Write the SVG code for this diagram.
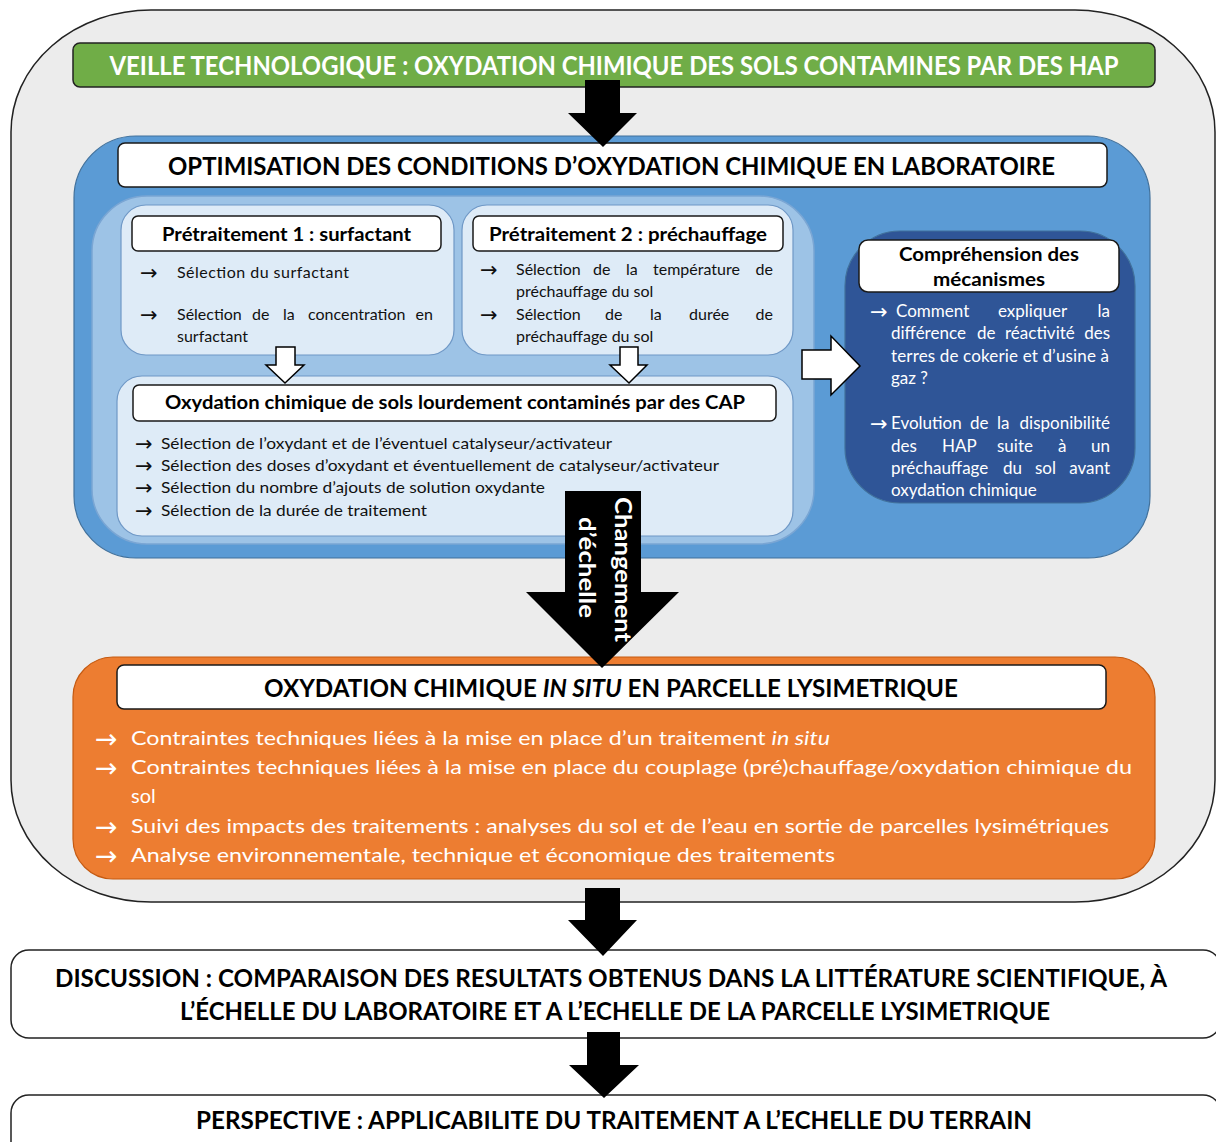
<svg xmlns="http://www.w3.org/2000/svg" width="1216" height="1142" viewBox="0 0 1216 1142">
<style>
text{font-family:Lato,"Open Sans","DejaVu Sans",sans-serif;}
text.ar{font-family:"DejaVu Sans",sans-serif;font-size:21px;}
text.ar.big{font-size:27px;}
.hb{font-weight:700;fill:#000;}
.hw{font-weight:700;fill:#fff;}
.t16{font-size:16px;fill:#111;}
.w17{font-size:17px;fill:#fff;}
.w20{font-size:20px;fill:#fff;}
.hdr{fill:#fff;stroke:#1a1a1a;stroke-width:1.5;}
.pbox{fill:#deebf7;stroke:#6f98c6;stroke-width:1.2;}
.blk{fill:#000;}
.wht{fill:#fff;stroke:#000;stroke-width:1.5;}
</style>
<rect width="1216" height="1142" fill="#fff"/>

<g id="outer">
<rect x="11" y="10" width="1204" height="892" rx="140" ry="122" fill="#ececec" stroke="#222" stroke-width="1.5"/>
</g>

<g id="veille">
<rect x="73" y="43" width="1082" height="44" rx="7" fill="#70ad47" stroke="#222" stroke-width="1.5"/>
<text x="614" y="75" text-anchor="middle" class="hw" font-size="26" textLength="1009" lengthAdjust="spacingAndGlyphs">VEILLE TECHNOLOGIQUE : OXYDATION CHIMIQUE DES SOLS CONTAMINES PAR DES HAP</text>
</g>

<g id="laboratoire">
<rect x="74" y="136" width="1076" height="422" rx="62" fill="#5b9bd5" stroke="#41719c" stroke-width="1.2"/>
<rect x="118" y="143" width="989" height="44" rx="7" class="hdr"/>
<text x="611.5" y="175" text-anchor="middle" class="hb" font-size="25" textLength="887" lengthAdjust="spacingAndGlyphs">OPTIMISATION DES CONDITIONS D’OXYDATION CHIMIQUE EN LABORATOIRE</text>
<rect x="92" y="196" width="722" height="348" rx="55" fill="#9dc3e6" stroke="#7aa6d4" stroke-width="1.5"/>
</g>

<g id="pretraitement1">
<rect x="121" y="205" width="333" height="150" rx="25" class="pbox"/>
<rect x="132" y="216" width="309" height="35" rx="6" class="hdr"/>
<text x="286.5" y="241" text-anchor="middle" class="hb" font-size="19" textLength="249" lengthAdjust="spacingAndGlyphs">Prétraitement 1 : surfactant</text>
<text x="140" y="280" class="ar" fill="#111">→</text>
<text x="177" y="278" class="t16" textLength="172" lengthAdjust="spacing">Sélection du surfactant</text>
<text x="140" y="322" class="ar" fill="#111">→</text>
<text y="320" class="t16"><tspan x="177">Sélection</tspan><tspan x="252">de</tspan><tspan x="283">la</tspan><tspan x="308">concentration</tspan></text>
<text x="433" y="320" text-anchor="end" class="t16">en</text>
<text x="177" y="342" class="t16">surfactant</text>
</g>

<g id="pretraitement2">
<rect x="462" y="205" width="331" height="150" rx="25" class="pbox"/>
<rect x="473" y="216" width="310" height="35" rx="6" class="hdr"/>
<text x="628" y="241" text-anchor="middle" class="hb" font-size="19" textLength="278" lengthAdjust="spacingAndGlyphs">Prétraitement 2 : préchauffage</text>
<text x="480" y="277" class="ar" fill="#111">→</text>
<text y="275" class="t16"><tspan x="516">Sélection</tspan><tspan x="593">de</tspan><tspan x="626">la</tspan><tspan x="653">température</tspan></text>
<text x="773" y="275" text-anchor="end" class="t16">de</text>
<text x="516" y="297" class="t16">préchauffage du sol</text>
<text x="480" y="322" class="ar" fill="#111">→</text>
<text y="320" class="t16"><tspan x="516">Sélection</tspan><tspan x="605">de</tspan><tspan x="650">la</tspan><tspan x="689">durée</tspan></text>
<text x="773" y="320" text-anchor="end" class="t16">de</text>
<text x="516" y="342" class="t16">préchauffage du sol</text>
</g>

<g id="oxydation-labo">
<rect x="117" y="376" width="676" height="160" rx="25" class="pbox"/>
<rect x="133" y="385" width="643" height="36" rx="6" class="hdr"/>
<text x="455" y="409" text-anchor="middle" class="hb" font-size="19" textLength="580" lengthAdjust="spacingAndGlyphs">Oxydation chimique de sols lourdement contaminés par des CAP</text>
<text x="135" y="451" class="ar" fill="#111">→</text>
<text x="161" y="449" class="t16" textLength="451" lengthAdjust="spacingAndGlyphs">Sélection de l’oxydant et de l’éventuel catalyseur/activateur</text>
<text x="135" y="473" class="ar" fill="#111">→</text>
<text x="161" y="471" class="t16" textLength="558" lengthAdjust="spacingAndGlyphs">Sélection des doses d’oxydant et éventuellement de catalyseur/activateur</text>
<text x="135" y="495" class="ar" fill="#111">→</text>
<text x="161" y="493" class="t16" textLength="384" lengthAdjust="spacingAndGlyphs">Sélection du nombre d’ajouts de solution oxydante</text>
<text x="135" y="518" class="ar" fill="#111">→</text>
<text x="161" y="516" class="t16" textLength="266" lengthAdjust="spacingAndGlyphs">Sélection de la durée de traitement</text>
</g>

<g id="comprehension">
<rect x="845" y="231" width="290" height="272" rx="55" fill="#2f5597" stroke="#41719c" stroke-width="1.2"/>
<rect x="859" y="240" width="260" height="52" rx="9" class="hdr"/>
<text x="989" y="261" text-anchor="middle" class="hb" font-size="19" textLength="180" lengthAdjust="spacingAndGlyphs">Compréhension des</text>
<text x="989" y="286" text-anchor="middle" class="hb" font-size="19" textLength="112" lengthAdjust="spacingAndGlyphs">mécanismes</text>
<text x="870" y="319" class="ar" fill="#fff">→</text>
<text y="317" class="w17"><tspan x="896">Comment</tspan><tspan x="998">expliquer</tspan></text>
<text x="1110" y="317" text-anchor="end" class="w17">la</text>
<text y="339" class="w17"><tspan x="891">différence</tspan><tspan x="977">de</tspan><tspan x="1005">réactivité</tspan></text>
<text x="1110" y="339" text-anchor="end" class="w17">des</text>
<text x="891" y="362" class="w17" textLength="218" lengthAdjust="spacing">terres de cokerie et d’usine à</text>
<text x="891" y="384" class="w17">gaz ?</text>
<text x="870" y="431" class="ar" fill="#fff">→</text>
<text y="429" class="w17"><tspan x="891">Evolution</tspan><tspan x="970">de</tspan><tspan x="997">la</tspan></text>
<text x="1110" y="429" text-anchor="end" class="w17">disponibilité</text>
<text y="452" class="w17"><tspan x="891">des</tspan><tspan x="942">HAP</tspan><tspan x="997">suite</tspan><tspan x="1058">à</tspan></text>
<text x="1110" y="452" text-anchor="end" class="w17">un</text>
<text y="474" class="w17"><tspan x="891">préchauffage</tspan><tspan x="1003">du</tspan><tspan x="1035">sol</tspan></text>
<text x="1110" y="474" text-anchor="end" class="w17">avant</text>
<text x="891" y="496" class="w17">oxydation chimique</text>
</g>

<g id="in-situ">
<rect x="73" y="657" width="1082" height="222" rx="40" fill="#ed7d31" stroke="#c55a11" stroke-width="1.2"/>
<rect x="117" y="665" width="989" height="44" rx="7" class="hdr"/>
<text x="611" y="697" text-anchor="middle" class="hb" font-size="24" textLength="694" lengthAdjust="spacingAndGlyphs">OXYDATION CHIMIQUE <tspan font-style="italic">IN SITU</tspan> EN PARCELLE LYSIMETRIQUE</text>
<text x="95" y="748" class="ar big" fill="#fff">→</text>
<text x="131" y="745" class="w20" textLength="699" lengthAdjust="spacingAndGlyphs">Contraintes techniques liées à la mise en place d’un traitement <tspan font-style="italic">in situ</tspan></text>
<text x="95" y="777" class="ar big" fill="#fff">→</text>
<text x="131" y="774" class="w20" textLength="1001" lengthAdjust="spacingAndGlyphs">Contraintes techniques liées à la mise en place du couplage (pré)chauffage/oxydation chimique du</text>
<text x="131" y="803" class="w20">sol</text>
<text x="95" y="836" class="ar big" fill="#fff">→</text>
<text x="131" y="833" class="w20" textLength="978" lengthAdjust="spacingAndGlyphs">Suivi des impacts des traitements : analyses du sol et de l’eau en sortie de parcelles lysimétriques</text>
<text x="95" y="865" class="ar big" fill="#fff">→</text>
<text x="131" y="862" class="w20" textLength="704" lengthAdjust="spacingAndGlyphs">Analyse environnementale,  technique et économique  des traitements</text>
</g>

<g id="discussion">
<rect x="11" y="950" width="1210" height="88" rx="18" fill="#fff" stroke="#222" stroke-width="1.5"/>
<text x="611" y="987" text-anchor="middle" class="hb" font-size="24" textLength="1112" lengthAdjust="spacingAndGlyphs">DISCUSSION : COMPARAISON DES RESULTATS OBTENUS DANS LA LITTÉRATURE SCIENTIFIQUE, À</text>
<text x="615" y="1020" text-anchor="middle" class="hb" font-size="24" textLength="870" lengthAdjust="spacingAndGlyphs">L’ÉCHELLE DU LABORATOIRE ET A L’ECHELLE DE LA PARCELLE LYSIMETRIQUE</text>
</g>

<g id="perspective">
<rect x="11" y="1095" width="1210" height="70" rx="18" fill="#fff" stroke="#222" stroke-width="1.5"/>
<text x="614" y="1129" text-anchor="middle" class="hb" font-size="24" textLength="836" lengthAdjust="spacingAndGlyphs">PERSPECTIVE : APPLICABILITE DU TRAITEMENT A L’ECHELLE DU TERRAIN</text>
</g>

<g id="connectors">
<polygon class="blk" points="585,80 620,80 620,113 637,113 603,147 568,113 585,113"/>
<polygon class="wht" points="276,347 295,347 295,365 304,365 285,383 266,365 276,365"/>
<polygon class="wht" points="620,347 638,347 638,365 647,365 629,383 610,365 620,365"/>
<polygon class="wht" points="802,350 831,350 831,336 860,366 831,395 831,379 802,379"/>
<g id="changement">
<polygon class="blk" points="565,491 641,491 641,592 679,592 602,668 526,592 565,592"/>
<text transform="translate(615,569.5) rotate(90)" text-anchor="middle" class="hw" font-size="23" textLength="145" lengthAdjust="spacingAndGlyphs">Changement</text>
<text transform="translate(579,567.5) rotate(90)" text-anchor="middle" class="hw" font-size="23" textLength="101" lengthAdjust="spacingAndGlyphs">d’échelle</text>
</g>
<polygon class="blk" points="585,888 620,888 620,920 637,920 603,956 568,920 585,920"/>
<polygon class="blk" points="587,1032 620,1032 620,1065 639,1065 604,1098 569,1065 587,1065"/>
</g>
</svg>
